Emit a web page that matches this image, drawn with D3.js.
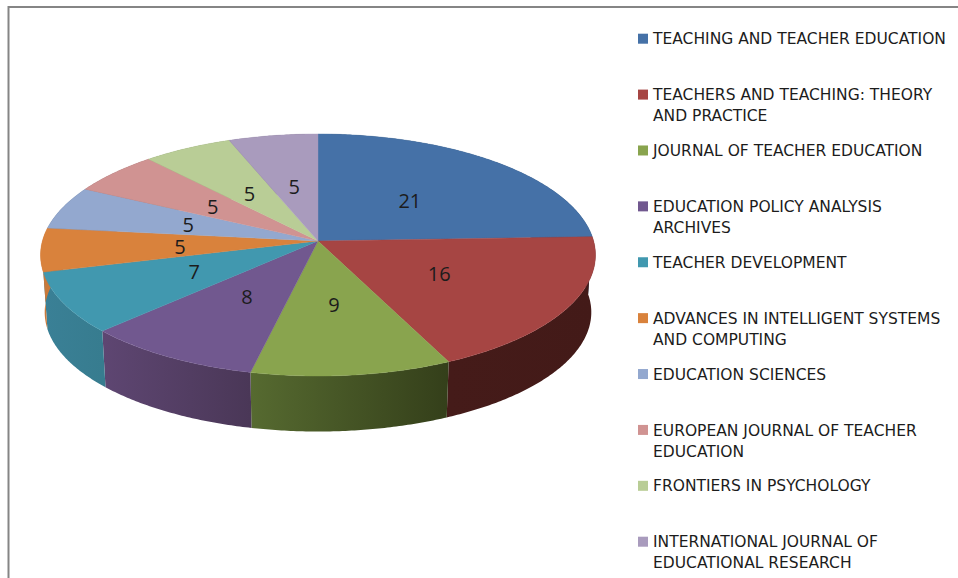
<!DOCTYPE html>
<html>
<head>
<meta charset="utf-8">
<script src="https://cdn.jsdelivr.net/npm/d3@7"></script>
<style>
  html, body { margin: 0; padding: 0; background: #fff; overflow: hidden; }
  text { font-family: "Open Sans", sans-serif; fill: #1c1c1c; }
  .legend-label { font-family: "DejaVu Sans", sans-serif; }
</style>
</head>
<body>
<svg id="chart"></svg>
<script>
const width = 958;
const height = 578;

const journals = [
  ["TEACHING AND TEACHER EDUCATION"],
  ["TEACHERS AND TEACHING: THEORY", "AND PRACTICE"],
  ["JOURNAL OF TEACHER EDUCATION"],
  ["EDUCATION POLICY ANALYSIS", "ARCHIVES"],
  ["TEACHER DEVELOPMENT"],
  ["ADVANCES IN INTELLIGENT SYSTEMS", "AND COMPUTING"],
  ["EDUCATION SCIENCES"],
  ["EUROPEAN JOURNAL OF TEACHER", "EDUCATION"],
  ["FRONTIERS IN PSYCHOLOGY"],
  ["INTERNATIONAL JOURNAL OF", "EDUCATIONAL RESEARCH"]
];
const counts = [21, 16, 9, 8, 7, 5, 5, 5, 5, 5];
const colors = ["#4571a7", "#a64543", "#89a44e", "#71588f", "#4198af", "#d9823c", "#93a8cf", "#d09392", "#b9cd96", "#a99bbd"];
const sideColors = [
  ["#2a4465", "#2a4465"], ["#451b19", "#431a18"], ["#566a30", "#343f1a"], ["#5e4672", "#4a3757"], ["#3a8096", "#377c8f"],
  ["#c9793a", "#c9793a"], ["#5f6d87", "#5f6d87"], ["#85605f", "#85605f"], ["#788560", "#788560"], ["#6e647b", "#6e647b"]
];

const svg = d3.select("#chart").attr("width", width).attr("height", height);

// frame of the pasted chart, open on the right and bottom
svg.append("path")
  .attr("d", `M8.5,${height}V7H${width}`)
  .attr("fill", "none")
  .attr("stroke", "#858585")
  .attr("stroke-width", 2);

const cx = 318;
const cy = 241;
const radiusX = 275.6;
const radiusY = 119.4;
const tilt = 0.1157;
const depth = 57.5;
const baseScale = 0.985;

const pie = d3.pie().sort(null).value((d) => d);
const slices = pie(counts);

// perspective projection of a point on the pie disc, r is 0..1
function project(angle, r, base) {
  const u = Math.sin(angle) * r;
  const v = Math.cos(angle) * r;
  const w = 1 + tilt * v;
  const s = base ? baseScale : 1;
  return [cx + (radiusX * s * u) / w, cy + (base ? depth : 0) - (radiusY * s * v) / w];
}

function rim(d, base) {
  const steps = Math.max(2, Math.ceil((d.endAngle - d.startAngle) / 0.01));
  return d3.range(steps + 1).map((i) => {
    const a = d.startAngle + ((d.endAngle - d.startAngle) * i) / steps;
    return project(a, 1, base);
  });
}

const line = d3.line();
const defs = svg.append("defs");

slices.forEach((d, i) => {
  const xs = rim(d, false).map((p) => p[0]);
  const grad = defs.append("linearGradient")
    .attr("id", `side${i}`)
    .attr("gradientUnits", "userSpaceOnUse")
    .attr("x1", d3.min(xs)).attr("x2", d3.max(xs))
    .attr("y1", 0).attr("y2", 0);
  grad.append("stop").attr("offset", 0).attr("stop-color", sideColors[i][0]);
  grad.append("stop").attr("offset", 1).attr("stop-color", sideColors[i][1]);
});

// walls first, the top face then covers the part that faces away
svg.append("g").selectAll("path")
  .data(slices)
  .enter()
  .append("path")
  .attr("d", (d) => line(rim(d, false).concat(rim(d, true).reverse())) + "Z")
  .attr("fill", (d, i) => `url(#side${i})`);

svg.append("g").selectAll("path")
  .data(slices)
  .enter()
  .append("path")
  .attr("d", (d) => line([[cx, cy]].concat(rim(d, false))) + "Z")
  .attr("fill", (d, i) => colors[i])
  .attr("stroke", (d, i) => colors[i])
  .attr("stroke-width", 0.4);

svg.append("g").selectAll("text")
  .data(slices)
  .enter()
  .append("text")
  .attr("transform", (d) => `translate(${project((d.startAngle + d.endAngle) / 2, 0.5, false)})`)
  .attr("text-anchor", "middle")
  .attr("dy", "0.42em")
  .attr("font-size", 20)
  .text((d) => d.value);

const legendY = d3.scaleLinear().domain([0, journals.length - 1]).range([38.7, 541.7]);

const legend = svg.append("g").selectAll("g")
  .data(journals)
  .enter()
  .append("g")
  .attr("transform", (d, i) => `translate(638,${legendY(i)})`);

legend.append("rect")
  .attr("y", -5)
  .attr("width", 10)
  .attr("height", 10)
  .attr("fill", (d, i) => colors[i]);

legend.selectAll("text")
  .data((d) => d)
  .enter()
  .append("text")
  .attr("class", "legend-label")
  .attr("x", 15)
  .attr("y", (d, i) => i * 21)
  .attr("dy", "0.36em")
  .attr("font-size", 15.5)
  .text((d) => d);
</script>
</body>
</html>
